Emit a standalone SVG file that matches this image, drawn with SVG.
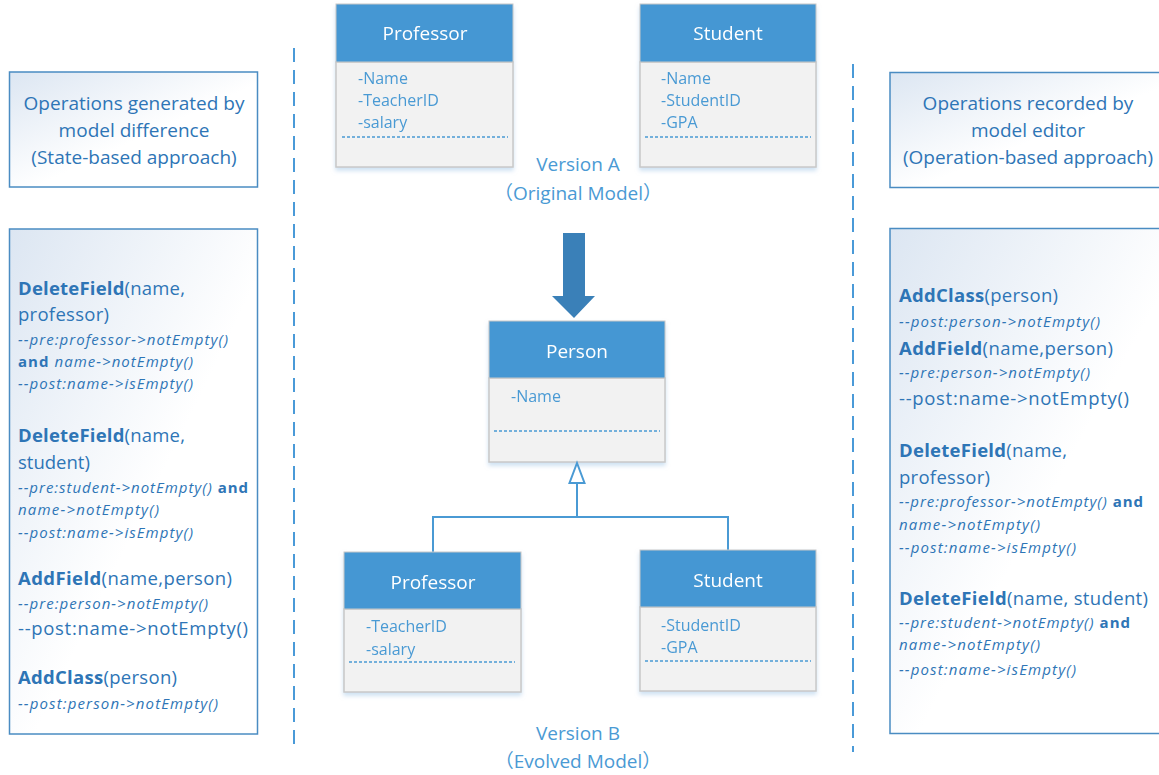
<svg xmlns="http://www.w3.org/2000/svg" width="1159" height="775" viewBox="0 0 1159 775">
<defs>
<linearGradient id="boxg" x1="0" y1="0" x2="1" y2="1">
<stop offset="0" stop-color="#DCE6F2"/>
<stop offset="0.55" stop-color="#FFFFFF"/>
<stop offset="1" stop-color="#FFFFFF"/>
</linearGradient>
<filter id="sh" x="-10%" y="-10%" width="120%" height="130%">
<feDropShadow dx="0" dy="3" stdDeviation="2" flood-color="#9DC3E6" flood-opacity="0.5"/>
</filter>
</defs>
<style>
.op{fill:url(#boxg);stroke:#4A8CC2;stroke-width:1.5}
.hd{fill:#4597D3;stroke:#C8C8C8;stroke-width:1}
.bd{fill:#F2F2F2;stroke:#C8C8C8;stroke-width:1.5}
.ttl{font-family:"Open Sans","Liberation Sans",sans-serif;font-size:19px;fill:#FFFFFF;text-anchor:middle}
.fld{font-family:"Open Sans","Liberation Sans",sans-serif;font-size:16px;fill:#4A9AD4}
.sep{stroke:#4A9AD4;stroke-width:1.5;stroke-dasharray:3 2}
.ver{font-family:"Open Sans","Noto Sans CJK SC","Liberation Sans",sans-serif;font-size:19px;fill:#4A9AD4;text-anchor:middle}
.hdr{font-family:"Open Sans","Liberation Sans",sans-serif;font-size:19px;fill:#2E75B6;text-anchor:middle}
.m{font-family:"Open Sans","Liberation Sans",sans-serif;font-size:18.5px;fill:#2E75B6}
.i{font-family:"Open Sans","Liberation Sans",sans-serif;font-size:15px;fill:#2E75B6;font-style:italic}
.b{font-weight:bold;font-style:normal}
.dv{stroke:#4A9AD8;stroke-width:2;stroke-dasharray:14 8;fill:none}
.conn{stroke:#4A9AD4;stroke-width:2;fill:none}
</style>

<g id="dividers">
<line class="dv" x1="294" y1="48" x2="294" y2="752"/>
<line class="dv" x1="853" y1="64" x2="853" y2="752"/>
</g>

<g id="state-header">
<rect class="op" x="9.5" y="72" width="248" height="115"/>
<text class="hdr" x="134" y="110">Operations generated by</text>
<text class="hdr" x="134" y="137">model difference</text>
<text class="hdr" x="134" y="164">(State-based approach)</text>
</g>

<g id="state-ops">
<rect class="op" x="9.5" y="229" width="248" height="505"/>
<text class="m" x="18" y="295" textLength="167"><tspan class="b">DeleteField</tspan>(name,</text>
<text class="m" x="18" y="321" textLength="91">professor)</text>
<text class="i" x="18" y="345" textLength="210">--pre:professor-&gt;notEmpty()</text>
<text class="i" x="18" y="367" textLength="175"><tspan class="b">and</tspan> name-&gt;notEmpty()</text>
<text class="i" x="18" y="389" textLength="175">--post:name-&gt;isEmpty()</text>
<text class="m" x="18" y="442" textLength="167"><tspan class="b">DeleteField</tspan>(name,</text>
<text class="m" x="18" y="469">student)</text>
<text class="i" x="18" y="493" textLength="230">--pre:student-&gt;notEmpty() <tspan class="b">and</tspan></text>
<text class="i" x="18" y="515" textLength="141">name-&gt;notEmpty()</text>
<text class="i" x="18" y="538" textLength="175">--post:name-&gt;isEmpty()</text>
<text class="m" x="18" y="585" textLength="214"><tspan class="b">AddField</tspan>(name,person)</text>
<text class="i" x="18" y="609" textLength="190">--pre:person-&gt;notEmpty()</text>
<text class="m" x="18" y="635" textLength="230">--post:name-&gt;notEmpty()</text>
<text class="m" x="18" y="684" textLength="159"><tspan class="b">AddClass</tspan>(person)</text>
<text class="i" x="18" y="709" textLength="200">--post:person-&gt;notEmpty()</text>
</g>

<g id="op-header">
<rect class="op" x="890" y="72.5" width="280" height="115"/>
<text class="hdr" x="1028" y="110">Operations recorded by</text>
<text class="hdr" x="1028" y="137">model editor</text>
<text class="hdr" x="1028" y="164">(Operation-based approach)</text>
</g>

<g id="op-ops">
<rect class="op" x="890" y="228.5" width="280" height="505"/>
<text class="m" x="899" y="302" textLength="159"><tspan class="b">AddClass</tspan>(person)</text>
<text class="i" x="899" y="327" textLength="201">--post:person-&gt;notEmpty()</text>
<text class="m" x="899" y="355" textLength="214"><tspan class="b">AddField</tspan>(name,person)</text>
<text class="i" x="899" y="378" textLength="191">--pre:person-&gt;notEmpty()</text>
<text class="m" x="899" y="405" textLength="230">--post:name-&gt;notEmpty()</text>
<text class="m" x="899" y="457" textLength="168"><tspan class="b">DeleteField</tspan>(name,</text>
<text class="m" x="899" y="484" textLength="91">professor)</text>
<text class="i" x="899" y="507" textLength="244">--pre:professor-&gt;notEmpty() <tspan class="b">and</tspan></text>
<text class="i" x="899" y="530" textLength="141">name-&gt;notEmpty()</text>
<text class="i" x="899" y="553" textLength="177">--post:name-&gt;isEmpty()</text>
<text class="m" x="899" y="605" textLength="249"><tspan class="b">DeleteField</tspan>(name, student)</text>
<text class="i" x="899" y="628" textLength="231">--pre:student-&gt;notEmpty() <tspan class="b">and</tspan></text>
<text class="i" x="899" y="650" textLength="141">name-&gt;notEmpty()</text>
<text class="i" x="899" y="675" textLength="177">--post:name-&gt;isEmpty()</text>
</g>

<g id="professorA" filter="url(#sh)">
<rect class="bd" x="336" y="62" width="177" height="105"/>
<rect class="hd" x="336" y="4" width="177" height="58"/>
<text class="ttl" x="425" y="40">Professor</text>
<text class="fld" x="358" y="84">-Name</text>
<text class="fld" x="358" y="106">-TeacherID</text>
<text class="fld" x="358" y="128">-salary</text>
<line class="sep" x1="342" y1="137" x2="508" y2="137"/>
</g>

<g id="studentA" filter="url(#sh)">
<rect class="bd" x="640" y="62" width="176" height="105"/>
<rect class="hd" x="640" y="4" width="176" height="58"/>
<text class="ttl" x="728" y="40">Student</text>
<text class="fld" x="661" y="84">-Name</text>
<text class="fld" x="661" y="106">-StudentID</text>
<text class="fld" x="661" y="128">-GPA</text>
<line class="sep" x1="645" y1="137" x2="811" y2="137"/>
</g>

<g id="versionA">
<text class="ver" x="578" y="171">Version A</text>
<text class="ver" x="578" y="200">（Original Model）</text>
</g>

<g id="evolve-arrow">
<polygon points="563,233 585,233 585,296 595,296 574,318 552,296 563,296" fill="#3A80B8"/>
</g>

<g id="person" filter="url(#sh)">
<rect class="bd" x="489" y="378" width="176" height="84"/>
<rect class="hd" x="489" y="321" width="176" height="57"/>
<text class="ttl" x="577" y="358">Person</text>
<text class="fld" x="511" y="402">-Name</text>
<line class="sep" x1="494" y1="431" x2="660" y2="431"/>
</g>

<g id="connectors">
<polyline class="conn" points="433,552 433,517 728,517 728,550"/>
<line class="conn" x1="577" y1="517" x2="577" y2="483"/>
<polygon points="577,463 584.5,483 569.5,483" fill="#FFFFFF" stroke="#4A9AD4" stroke-width="2"/>
</g>

<g id="professorB" filter="url(#sh)">
<rect class="bd" x="344" y="609" width="177" height="83"/>
<rect class="hd" x="344" y="552" width="177" height="57"/>
<text class="ttl" x="433" y="589">Professor</text>
<text class="fld" x="366" y="632">-TeacherID</text>
<text class="fld" x="366" y="655">-salary</text>
<line class="sep" x1="349" y1="662" x2="515" y2="662"/>
</g>

<g id="studentB" filter="url(#sh)">
<rect class="bd" x="640" y="607" width="176" height="84"/>
<rect class="hd" x="640" y="550" width="176" height="57"/>
<text class="ttl" x="728" y="587">Student</text>
<text class="fld" x="661" y="631">-StudentID</text>
<text class="fld" x="661" y="653">-GPA</text>
<line class="sep" x1="645" y1="661" x2="811" y2="661"/>
</g>

<g id="versionB">
<text class="ver" x="578" y="740">Version B</text>
<text class="ver" x="578" y="768">（Evolved Model）</text>
</g>
</svg>
